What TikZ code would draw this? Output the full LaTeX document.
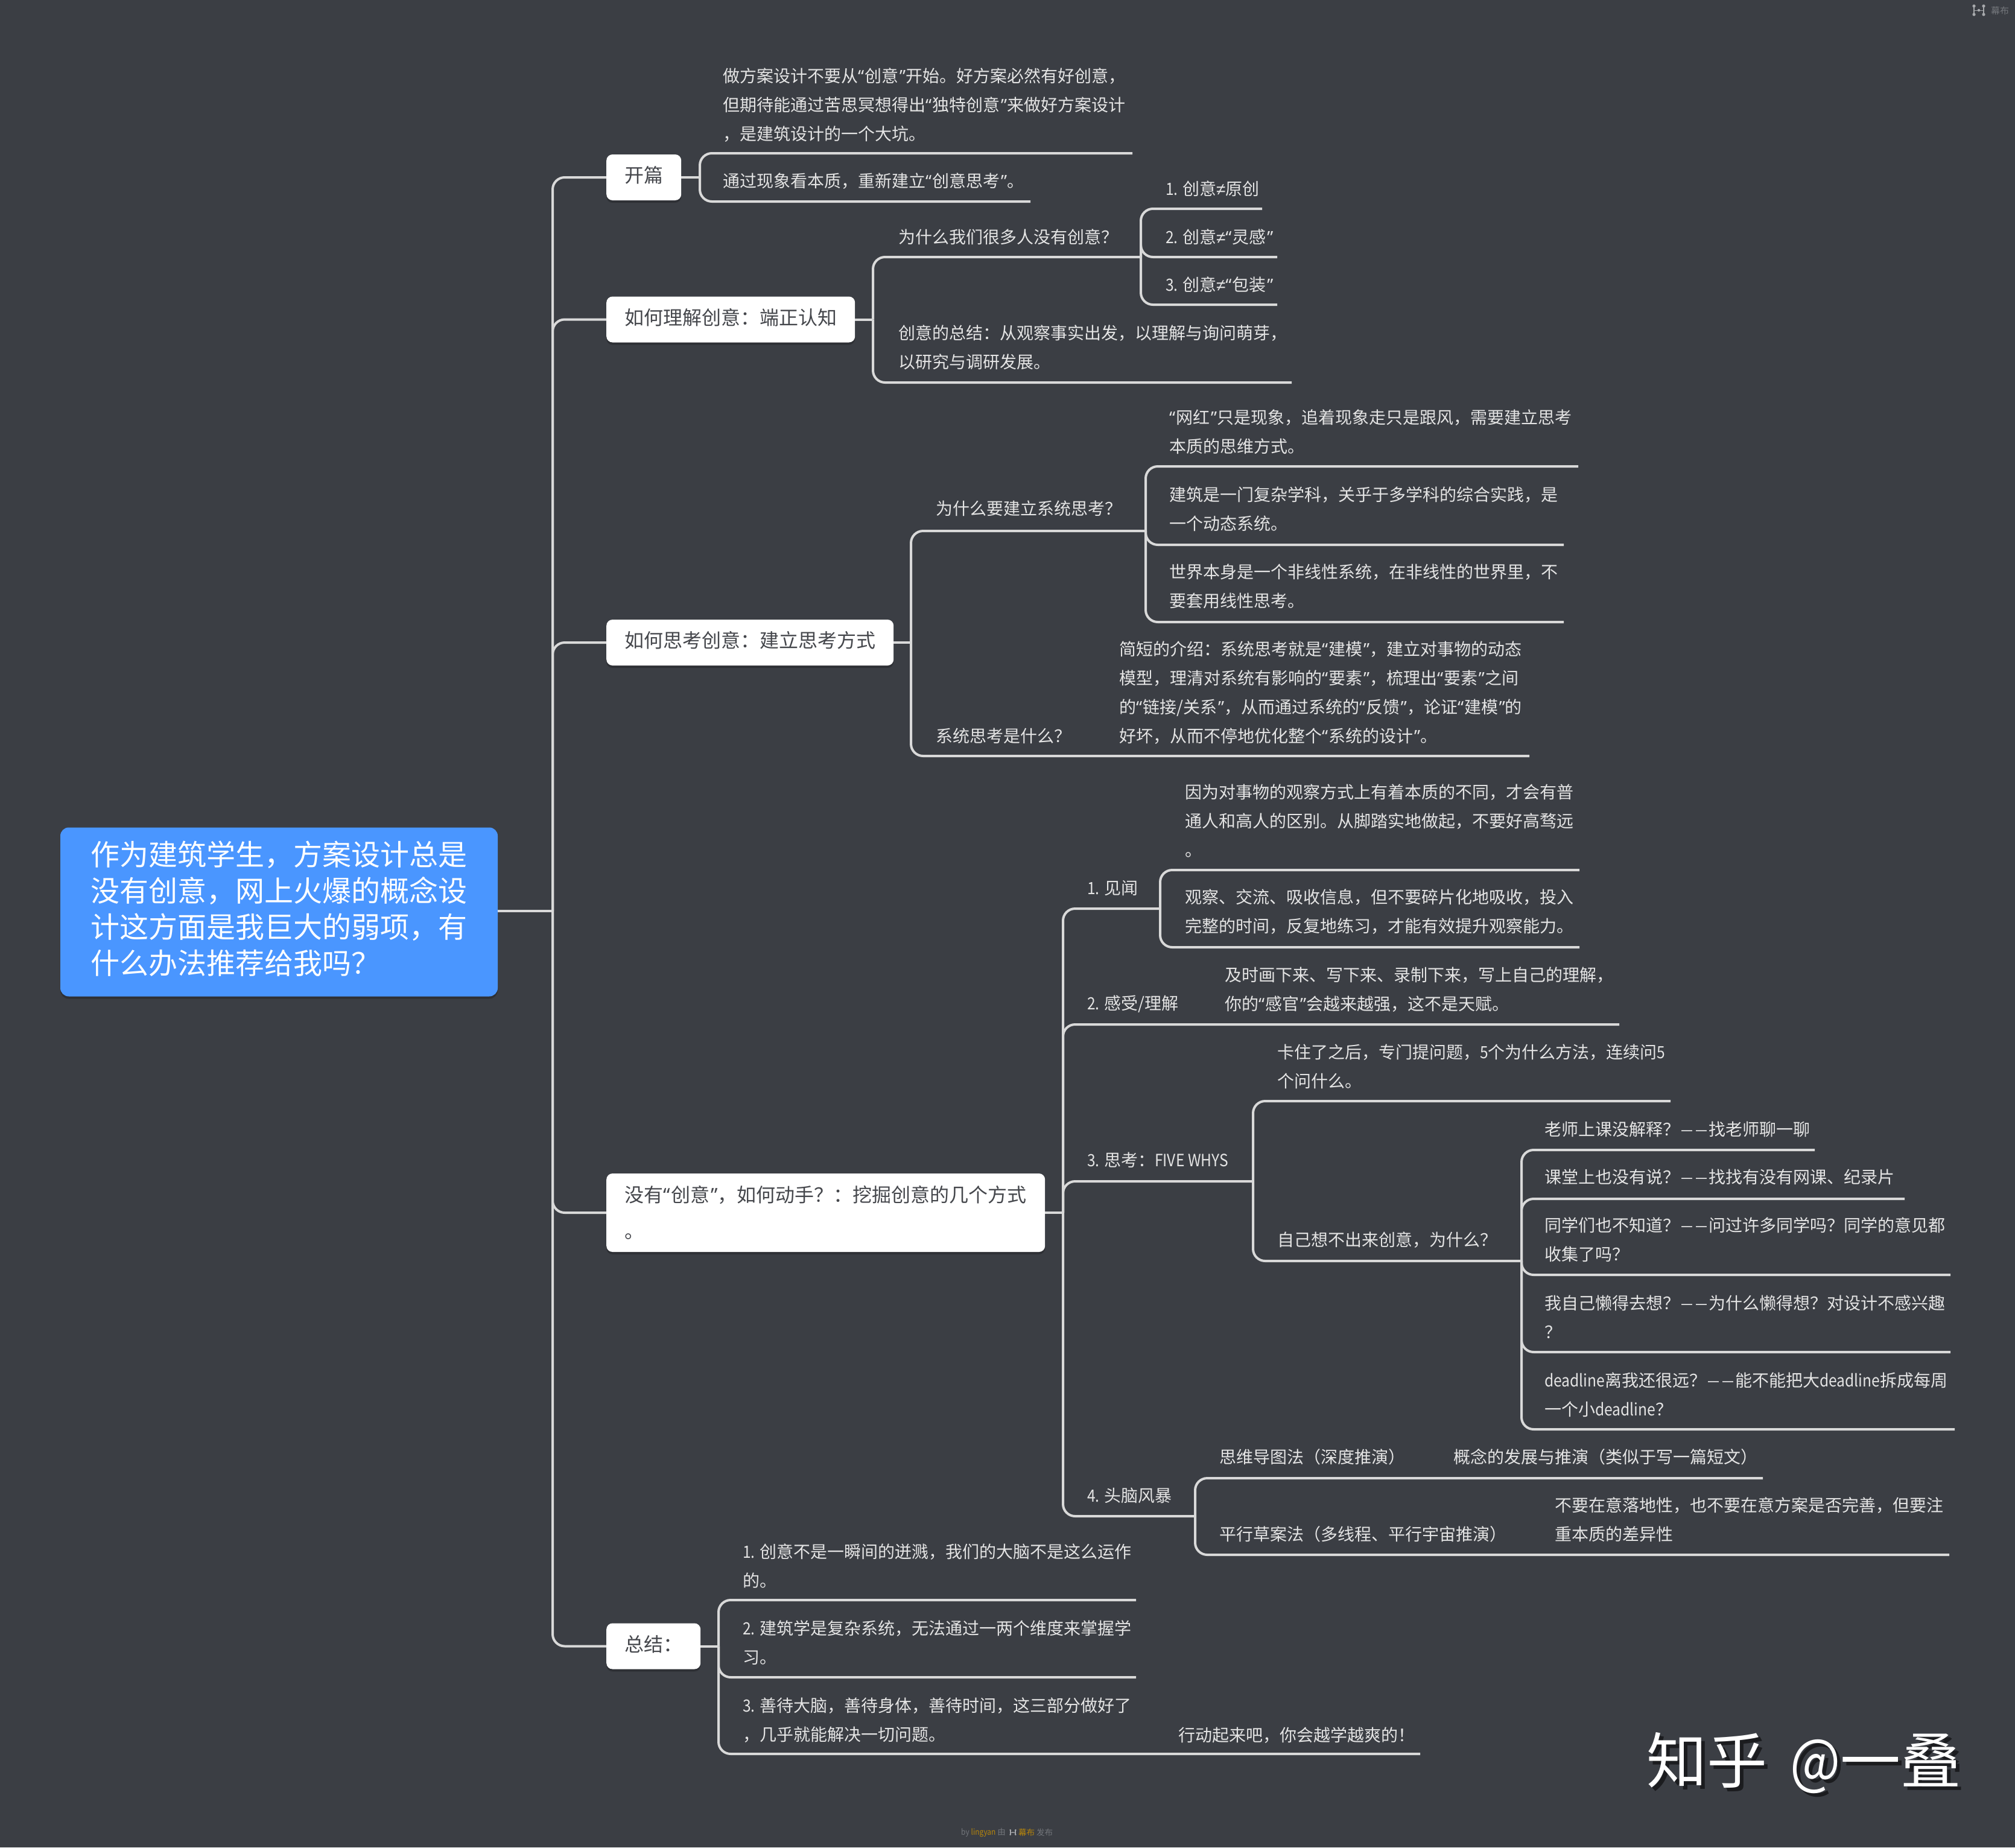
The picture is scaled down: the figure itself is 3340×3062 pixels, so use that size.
\documentclass[tikz,border=0pt]{standalone}
\usepackage{fontspec}
\setmainfont{Noto Sans CJK SC}
\newfontfamily\quotefont{Noto Sans}
\newfontfamily\signfont{Liberation Sans}
\newfontfamily\latinpart[FakeStretch=0.88]{Noto Sans CJK SC}
\newfontfamily\dashpart[FakeStretch=0.8]{Noto Sans CJK SC}
% narrow quotation marks, unequal sign and dash within the Chinese text
\catcode`\“=\active \def“{{\quotefont\char"201C\relax}\kern.05em\relax}
\catcode`\”=\active \def”{\kern.05em{\quotefont\char"201D\relax}}
\catcode`\≠=\active \def≠{{\signfont\char"2260\relax}}
\catcode`\—=\active \def—{\kern.07em{\dashpart\char"2014\relax}\kern.07em\relax}
\newcommand{\lat}[1]{{\latinpart #1}}
\usetikzlibrary{shadows}
\definecolor{canvas}{HTML}{3B3E44}
\definecolor{wire}{HTML}{D9D9D9}
\definecolor{rootblue}{HTML}{4A96FF}
\definecolor{leafink}{HTML}{E4E4E4}
\definecolor{topicink}{HTML}{45474C}
\definecolor{brandgrey}{HTML}{74777C}
\definecolor{brandicon}{HTML}{A6A8AB}
\definecolor{brandgold}{HTML}{B8860B}
\tikzset{
  x=1pt,y=-1pt,
  link/.style={draw=wire,line width=4pt,rounded corners=20pt},
  leaf/.style={anchor=west,inner sep=0pt,align=left,text=leafink,font=\fontsize{28}{48}\selectfont},
  topicbase/.style={anchor=west,fill=white,rounded corners=10pt,inner ysep=0pt,inner xsep=30pt,align=left,
    text=topicink,font=\fontsize{32}{60}\selectfont,
    drop shadow={shadow xshift=0pt,shadow yshift=-4pt,opacity=.22,fill=black}},
  topic/.style={topicbase,minimum height=76pt,text height=24pt,text depth=7pt},
  rootbox/.style={fill=rootblue,rounded corners=14pt,inner sep=0pt,minimum width=725pt,minimum height=280pt,
    text=white,font=\fontsize{48}{60}\selectfont,
    drop shadow={shadow xshift=0pt,shadow yshift=-4pt,opacity=.22,fill=black}},
}
% a text node together with the far end of the rule beneath it
\newcommand{\leafnode}[6]{%
  \node[leaf] (#1) at (#2,#3) {#6};
  \coordinate (#1-e) at (#4,#5);}
% the publisher logo: two dotted bars joined across a centre dot
\newcommand{\logomark}[3]{%
  \begin{scope}[xshift=#1pt,yshift=-#2pt,scale=#3]
    \draw[brandicon,line width=2pt] (-8,-7) -- (-8,7) (8,-7) -- (8,7);
    \draw[brandicon,line width=1pt] (-8,0) -- (8,0);
    \foreach \px/\py in {-8/-7,-8/7,8/-7,8/7}{\fill[brandicon] (\px,\py) circle (2.6);}
    \fill[brandicon] (0,0) circle (2.2);
  \end{scope}}
\begin{document}
\begin{tikzpicture}
\useasboundingbox (0,0) rectangle (3340,3062);
\fill[canvas] (0,0) rectangle (3340,3062);

% central topic and main branches
\node[rootbox] (root) at (462.5,1511.5) {\parbox[c][280pt][t]{625pt}{\vspace*{22pt}作为建筑学生，方案设计总是\\没有创意，网上火爆的概念设\\计这方面是我巨大的弱项，有\\什么办法推荐给我吗？}};
\node[topic] (t1) at (1005,294) {开篇};
\node[topic] (t2) at (1005,529.5) {如何理解创意：端正认知};
\node[topic] (t3) at (1005,1065) {如何思考创意：建立思考方式};
\node[topicbase,minimum height=130pt,minimum width=727pt] (t4) at (1005,2010) {没有“创意”，如何动手？：挖掘创意的几个方式\\。};
\node[topic] (t5) at (1005,2728.5) {总结：};

\coordinate (trunk) at (916,1510);
\draw[link] (root.east |- trunk) -- (trunk);
\foreach \t in {t1,t2,t3,t4,t5}{\draw[link] (trunk) |- (\t.west);}

% opening
\coordinate (s1) at (1160,294);
\draw[link] (t1.east) -- (s1);
\leafnode{a1}{1198}{174}{1877}{254}{做方案设计不要从“创意”开始。好方案必然有好创意，\\但期待能通过苦思冥想得出“独特创意”来做好方案设计\\，是建筑设计的一个大坑。}
\leafnode{a2}{1198}{300}{1708}{334}{通过现象看本质，重新建立“创意思考”。}
\draw[link] (s1) |- (a1-e);
\draw[link] (s1) |- (a2-e);

% understanding
\coordinate (s2) at (1447,529.5);
\draw[link] (t2.east) -- (s2);
\leafnode{b1}{1489}{393}{1891}{426}{为什么我们很多人没有创意？}
\leafnode{b2}{1489}{576}{2141}{634}{创意的总结：从观察事实出发，以理解与询问萌芽，\\以研究与调研发展。}
\draw[link] (s2) |- (b1-e);
\draw[link] (s2) |- (b2-e);
\leafnode{b11}{1932}{313}{2092}{346}{\lat{1. }创意≠原创}
\leafnode{b12}{1932}{393}{2117}{426}{\lat{2. }创意≠“灵感”}
\leafnode{b13}{1932}{472}{2117}{505}{\lat{3. }创意≠“包装”}
\foreach \c in {b11,b12,b13}{\draw[link] (b1-e) |- (\c-e);}

% systems thinking
\coordinate (s3) at (1510,1065);
\draw[link] (t3.east) -- (s3);
\leafnode{c1}{1551}{843}{1899}{880}{为什么要建立系统思考？}
\leafnode{c2}{1551}{1220}{2535}{1253}{系统思考是什么？}
\draw[link] (s3) |- (c1-e);
\draw[link] (s3) |- (c2-e);
\leafnode{c11}{1938}{716}{2616}{773}{“网红”只是现象，追着现象走只是跟风，需要建立思考\\本质的思维方式。}
\leafnode{c12}{1938}{844}{2592}{903}{建筑是一门复杂学科，关乎于多学科的综合实践，是\\一个动态系统。}
\leafnode{c13}{1938}{972}{2592}{1031}{世界本身是一个非线性系统，在非线性的世界里，不\\要套用线性思考。}
\foreach \c in {c11,c12,c13}{\draw[link] (c1-e) |- (\c-e);}
\node[leaf] (c21) at (1855,1148) {简短的介绍：系统思考就是“建模”，建立对事物的动态\\模型，理清对系统有影响的“要素”，梳理出“要素”之间\\的“链接/关系”，从而通过系统的“反馈”，论证“建模”的\\好坏，从而不停地优化整个“系统的设计”。};

% ways of digging
\coordinate (s4) at (1762,2010);
\draw[link] (t4.east) -- (s4);
\leafnode{d1}{1802}{1472}{1923}{1506}{\lat{1. }见闻}
\leafnode{d2}{1802}{1664}{2684}{1698}{\lat{2. }感受/理解}
\leafnode{d3}{1802}{1923}{2077}{1958}{\lat{3. }思考：\lat{FIVE WHYS}}
\leafnode{d4}{1802}{2479}{1981}{2513}{\lat{4. }头脑风暴}
\foreach \c in {d1,d2,d3,d4}{\draw[link] (s4) |- (\c-e);}
\leafnode{d11}{1964}{1360}{2618}{1442}{因为对事物的观察方式上有着本质的不同，才会有普\\通人和高人的区别。从脚踏实地做起，不要好高骛远\\。}
\leafnode{d12}{1964}{1511}{2618}{1570}{观察、交流、吸收信息，但不要碎片化地吸收，投入\\完整的时间，反复地练习，才能有效提升观察能力。}
\foreach \c in {d11,d12}{\draw[link] (d1-e) |- (\c-e);}
\node[leaf] (d21) at (2030,1640) {及时画下来、写下来、录制下来，写上自己的理解，\\你的“感官”会越来越强，这不是天赋。};
\leafnode{d31}{2117}{1768}{2769}{1825}{卡住了之后，专门提问题，\lat{5}个为什么方法，连续问\lat{5}\\个问什么。}
\leafnode{d32}{2117}{2055}{2522}{2090}{自己想不出来创意，为什么？}
\foreach \c in {d31,d32}{\draw[link] (d3-e) |- (\c-e);}
\leafnode{e1}{2560}{1872}{3008}{1906}{老师上课没解释？——找老师聊一聊}
\leafnode{e2}{2560}{1951}{3157}{1987}{课堂上也没有说？——找找有没有网课、纪录片}
\leafnode{e3}{2560}{2055}{3233}{2113}{同学们也不知道？——问过许多同学吗？同学的意见都\\收集了吗？}
\leafnode{e4}{2560}{2183}{3233}{2241}{我自己懒得去想？——为什么懒得想？对设计不感兴趣\\？}
\leafnode{e5}{2560}{2312}{3240}{2369}{\lat{deadline}离我还很远？——能不能把大\lat{deadline}拆成每周\\一个小\lat{deadline}？}
\foreach \c in {e1,e2,e3,e4,e5}{\draw[link] (d32-e) |- (\c-e);}
\leafnode{f1}{2021}{2415}{2922}{2450}{思维导图法（深度推演）}
\leafnode{f2}{2021}{2543}{3231}{2577}{平行草案法（多线程、平行宇宙推演）}
\foreach \c in {f1,f2}{\draw[link] (d4-e) |- (\c-e);}
\node[leaf] (f11) at (2409,2415) {概念的发展与推演（类似于写一篇短文）};
\node[leaf] (f21) at (2577,2519) {不要在意落地性，也不要在意方案是否完善，但要注\\重本质的差异性};

% summary
\coordinate (s5) at (1191,2728.5);
\draw[link] (t5.east) -- (s5);
\leafnode{g1}{1231}{2595}{1883}{2652}{\lat{1. }创意不是一瞬间的迸溅，我们的大脑不是这么运作\\的。}
\leafnode{g2}{1231}{2723}{1883}{2780}{\lat{2. }建筑学是复杂系统，无法通过一两个维度来掌握学\\习。}
\leafnode{g3}{1231}{2851}{2354}{2907}{\lat{3. }善待大脑，善待身体，善待时间，这三部分做好了\\，几乎就能解决一切问题。}
\foreach \c in {g1,g2,g3}{\draw[link] (s5) |- (\c-e);}
\node[leaf] (g31) at (1953,2876) {行动起来吧，你会越学越爽的！};

% signature with its offset shade
\node[anchor=west,inner sep=0pt,text=black!55!canvas,font=\fontsize{100}{110}\selectfont] (signshade) at (2735,2928) {知乎\hspace{38pt}\lat{@}一叠};
\node[anchor=west,inner sep=0pt,text=white,font=\fontsize{100}{110}\selectfont] (sign) at (2729,2922) {知乎\hspace{38pt}\lat{@}一叠};

% publisher marks
\logomark{3280}{17}{1}
\node[anchor=west,inner sep=0pt,text=brandgrey,font=\fontsize{15}{16}\selectfont] (toptext) at (3300,18) {幕布};
\node[anchor=west,inner sep=0pt,text=brandgrey,font=\fontsize{13.5}{16}\selectfont] (foota) at (1593,3037) {\lat{by} \textcolor{brandgold}{\lat{lingyan}} 由};
\logomark{1679}{3037}{0.55}
\node[anchor=west,inner sep=0pt,text=brandgrey,font=\fontsize{13.5}{16}\selectfont] (footb) at (1688,3037) {\textcolor{brandgold}{幕布} 发布};
\end{tikzpicture}
\end{document}
